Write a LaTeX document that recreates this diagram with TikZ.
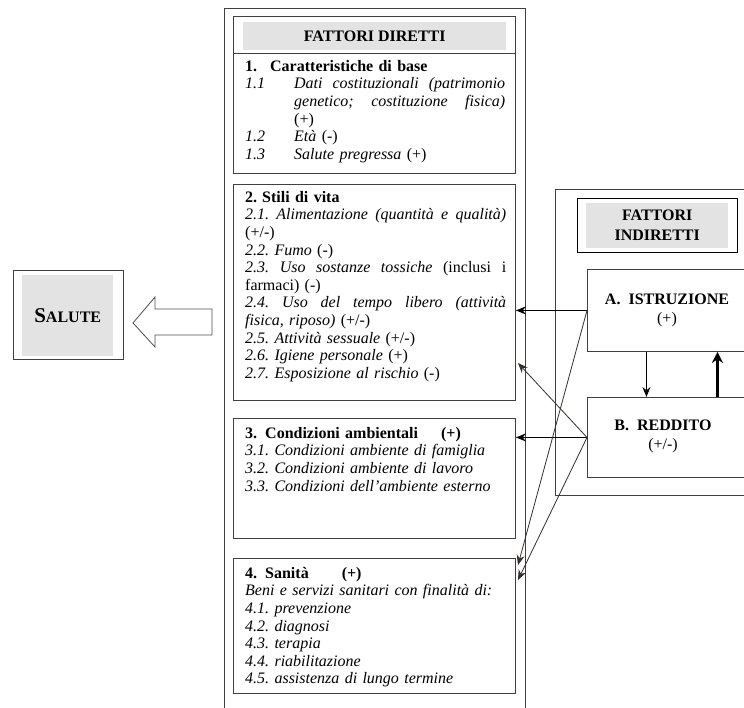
\documentclass[tikz,border=0pt]{standalone}
\usepackage{fontspec}
\setmainfont{Liberation Serif}
\usetikzlibrary{arrows.meta}

\tikzset{
  box/.style={draw=black!75, line width=0.9pt, anchor=north west, inner sep=0pt},
  grey/.style={fill=black!11, anchor=north west, inner sep=0pt},
  txt/.style={anchor=north west, inner sep=0pt, align=left, text width=262pt},
  link/.style={-{Stealth[length=10pt,width=8pt]}, line width=1.2pt},
  thin link/.style={-{Stealth[length=10pt,width=8pt]}, line width=0.8pt, black!85!olive},
}
\newcommand{\itm}[2]{\makebox[49pt][l]{\itshape #1}#2}
\newcommand{\spread}[2]{\makebox[#1][s]{\spaceskip=0pt\xspaceskip=0pt #2}}

\begin{document}
\begin{tikzpicture}[x=1pt, y=-1pt, font=\fontsize{16}{17.6}\selectfont\frenchspacing]
\useasboundingbox (0,0) rectangle (744,708);
\clip (0,0) rectangle (744,708);

% fattori diretti
\node[box, minimum width=301pt, minimum height=712pt] (diretti) at (224,8) {};
\node[box, minimum width=282pt, minimum height=157pt] (base) at (233,16) {};
\node[grey, minimum width=263pt, minimum height=28pt] (dirhead) at (243,22) {};
\node[font=\fontsize{16}{17.6}\selectfont\bfseries] (dirtitle) at (dirhead.center) {FATTORI DIRETTI};
\draw[black!75, line width=0.9pt] (base.west |- 0,53) -- (base.east |- 0,53);
\node[txt] (basetxt) at (245,60) {%
  \textbf{1.\hspace{13pt}Caratteristiche di base}\\
  \itm{1.1}{\spread{211pt}{\itshape Dati costituzionali (patrimonio}}\\
  \hspace*{49pt}\spread{211pt}{\itshape genetico; costituzione fisica)}\\
  \hspace*{49pt}(+)\\
  \itm{1.2}{\textit{Età} (-)}\\
  \itm{1.3}{\textit{Salute pregressa} (+)}};

\node[box, minimum width=282pt, minimum height=216pt] (stili) at (233,184) {};
\node[txt] (stilitxt) at (245,191) {%
  \textbf{2.\hspace{5pt}Stili di vita}\\
  \spread{261pt}{\itshape 2.1. Alimentazione (quantità e qualità)}\\
  (+/-)\\
  \textit{2.2. Fumo} (-)\\
  \spread{261pt}{\textit{2.3. Uso sostanze tossiche} (inclusi i}\\
  farmaci) (-)\\
  \spread{261pt}{\itshape 2.4. Uso del tempo libero (attività}\\
  \textit{fisica, riposo)} (+/-)\\
  \textit{2.5. Attività sessuale} (+/-)\\
  \textit{2.6. Igiene personale} (+)\\
  \textit{2.7. Esposizione al rischio} (-)};

\node[box, minimum width=282pt, minimum height=120pt] (ambiente) at (233,418) {};
\node[txt] (ambtxt) at (245,427) {%
  \textbf{3.\hspace{8pt}Condizioni ambientali\hspace{23pt}(+)}\\
  \textit{3.1. Condizioni ambiente di famiglia}\\
  \textit{3.2. Condizioni ambiente di lavoro}\\
  \textit{3.3. Condizioni dell’ambiente esterno}};

\node[box, minimum width=282pt, minimum height=135pt] (sanita) at (233,558) {};
\node[txt] (santxt) at (245,567) {%
  \textbf{4.\hspace{8pt}Sanità\hspace{33pt}(+)}\\
  \textit{Beni e servizi sanitari con finalità di:}\\
  \textit{4.1. prevenzione}\\
  \textit{4.2. diagnosi}\\
  \textit{4.3. terapia}\\
  \textit{4.4. riabilitazione}\\
  \textit{4.5. assistenza di lungo termine}};

% fattori indiretti
\node[box, minimum width=220pt, minimum height=306pt] (indiretti) at (555,189) {};
\node[box, draw=black, minimum width=160pt, minimum height=54pt] (indhead) at (577,198) {};
\node[grey, minimum width=142pt, minimum height=45pt] (indgrey) at (586,203) {};
\node[align=center, font=\fontsize{16}{20}\selectfont\bfseries] (indtitle) at (indgrey.center) {FATTORI\\INDIRETTI};
\node[box, minimum width=190pt, minimum height=82pt] (istr) at (587,269) {};
\node[align=center, font=\fontsize{16}{19}\selectfont] (istrtxt) at (667,310) {\textbf{A.\hspace{8pt}ISTRUZIONE}\\(+)};
\node[box, minimum width=190pt, minimum height=80pt] (redd) at (587,397) {};
\node[align=center, font=\fontsize{16}{19}\selectfont] (reddtxt) at (663,436) {\textbf{B.\hspace{8pt}REDDITO}\\(+/-)};

% salute
\node[box, minimum width=110pt, minimum height=89pt] (salute) at (13,270) {};
\node[grey, minimum width=91pt, minimum height=81pt] (salgrey) at (22,275) {};
\node[font=\bfseries] (saltxt) at (salgrey.center) {\fontsize{21}{21}\selectfont S\fontsize{16}{16}\selectfont ALUTE};
\draw[black!70, line width=0.8pt] (133,323) -- (155,297) -- (155,309) -- (212,309)
  -- (212,335) -- (155,335) -- (155,347) -- cycle;

% collegamenti
\coordinate (stili-in) at (518,363);
\coordinate (san-a) at (518,565);
\coordinate (san-b) at (518,580);
\draw[link] (istr.west) -- (istr.west -| stili.east);
\draw[link] (redd.west) -- (redd.west -| ambiente.east);
\draw[thin link] (redd.west) -- (stili-in);
\draw[thin link] (istr.west) -- (san-a);
\draw[thin link] (redd.west) -- (san-b);
\draw[link] ([xshift=-36pt]istr.south) -- ([xshift=-36pt]redd.north);
\draw[-{Stealth[length=11pt,width=11pt]}, line width=2.4pt] ([xshift=35pt]redd.north) -- ([xshift=35pt]istr.south);
\end{tikzpicture}
\end{document}
